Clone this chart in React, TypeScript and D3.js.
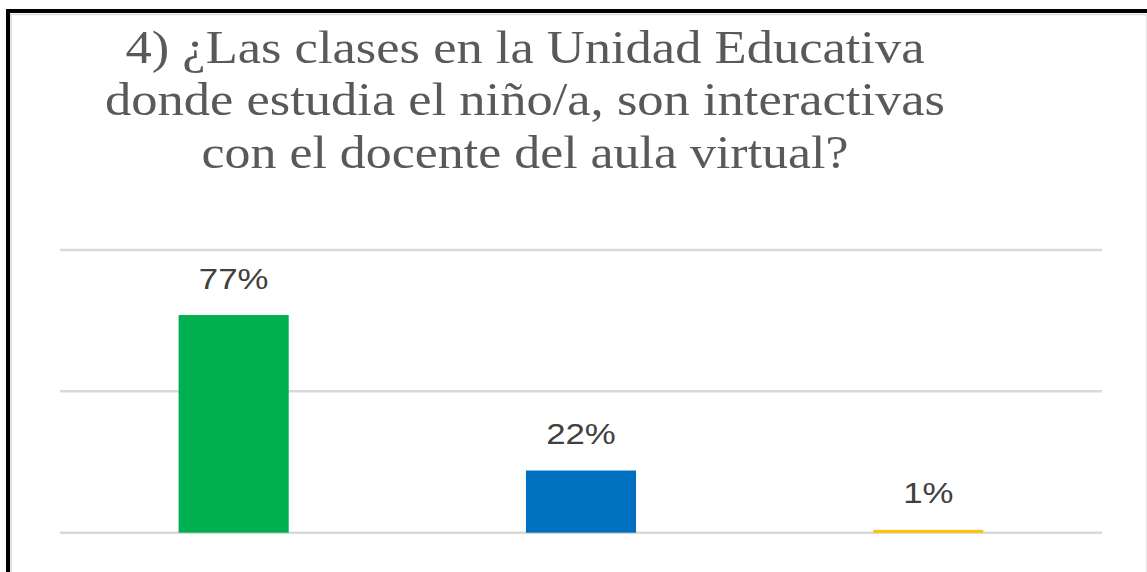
import React from "react";
import * as d3 from "d3";

const categories = ["Siempre", "A veces", "Nunca"];
const values = [0.77, 0.22, 0.01];
const valueLabels = ["77%", "22%", "1%"];
const barColors = ["#00B050", "#0070C0", "#FFC000"];
const gridTicks = [0, 0.5, 1];
const titleLines = [
  "4) ¿Las clases en la Unidad Educativa",
  "donde estudia el niño/a, son interactivas",
  "con el  docente del aula virtual?",
];

const W = 1147;
const H = 572;
const plotLeft = 60;
const plotRight = 1102;
const plotTop = 250;
const plotBottom = 532.7;

export default function App() {
  const x = d3.scaleBand<string>().domain(categories).range([plotLeft, plotRight]).padding(0);
  const y = d3.scaleLinear().domain([0, 1]).range([plotBottom, plotTop]);
  const barW = x.bandwidth() * 0.317;
  const titleWidths = [799, 840, 647];
  const titleCenter = 525;
  const titleBaselines = [62.5, 115, 167.5];

  return (
    <svg
      width={W}
      height={H}
      style={{ position: "absolute", left: 0, top: 0, background: "#fff" }}
    >
      <rect x={0} y={0} width={W} height={H} fill="#fff" />
      {/* frame */}
      <line x1={10} y1={14.5} x2={W} y2={14.5} stroke="#d9d9d9" strokeWidth={1.5} />
      <line x1={11} y1={14} x2={11} y2={H} stroke="#d9d9d9" strokeWidth={1.5} />
      <line x1={1146.5} y1={14} x2={1146.5} y2={H} stroke="#e6e6e6" strokeWidth={1} />
      <line x1={6} y1={11} x2={W} y2={11} stroke="#000" strokeWidth={4} />
      <line x1={8} y1={9} x2={8} y2={H} stroke="#000" strokeWidth={4} />

      {/* title */}
      {titleLines.map((t, i) => (
        <text
          key={i}
          x={titleCenter}
          y={titleBaselines[i]}
          textAnchor="middle"
          fontFamily="'Liberation Serif', 'Times New Roman', serif"
          fontSize={46}
          fill="#595959"
          textLength={titleWidths[i]}
          lengthAdjust="spacingAndGlyphs"
        >
          {t}
        </text>
      ))}

      {/* gridlines */}
      {gridTicks.map((t) => (
        <line
          key={t}
          x1={plotLeft}
          x2={plotRight}
          y1={y(t)}
          y2={y(t)}
          stroke="#d9d9d9"
          strokeWidth={2.5}
        />
      ))}

      {/* bars */}
      {categories.map((c, i) => {
        const cx = (x(c) as number) + x.bandwidth() / 2;
        return (
          <g key={c}>
            <rect
              x={cx - barW / 2}
              y={y(values[i])}
              width={barW}
              height={y(0) - y(values[i])}
              fill={barColors[i]}
            />
            <text
              x={cx}
              y={y(values[i]) - 26.5}
              textAnchor="middle"
              fontFamily="'Liberation Sans', Arial, sans-serif"
              fontSize={29}
              fill="#404040"
              transform={`translate(${cx},0) scale(1.2,1) translate(${-cx},0)`}
            >
              {valueLabels[i]}
            </text>
          </g>
        );
      })}
    </svg>
  );
}
